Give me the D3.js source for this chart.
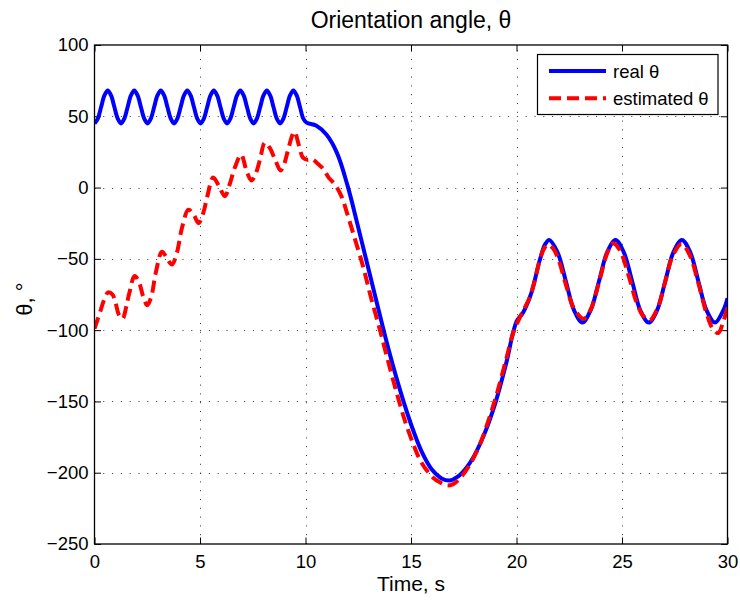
<!DOCTYPE html>
<html>
<head>
<meta charset="utf-8">
<script src="https://cdn.jsdelivr.net/npm/d3@7"></script>
<style>
  html, body { margin: 0; padding: 0; background: #fff; }
  svg { display: block; font-family: "Liberation Sans", Arial, Helvetica, sans-serif; }
</style>
</head>
<body>
<svg id="chart" width="740" height="600"></svg>
<script>
// ---------- data ----------
const xTicks = [0, 5, 10, 15, 20, 25, 30];
const yTicks = [-250, -200, -150, -100, -50, 0, 50, 100];

const realTime = [
  0, 0.157, 0.314, 0.471, 0.628, 0.785, 0.942, 1.100,
  1.257, 1.414, 1.571, 1.728, 1.885, 2.042, 2.199, 2.356,
  2.513, 2.670, 2.827, 2.985, 3.142, 3.299, 3.456, 3.613,
  3.770, 3.927, 4.084, 4.241, 4.398, 4.555, 4.712, 4.869,
  5.027, 5.184, 5.341, 5.498, 5.655, 5.812, 5.969, 6.126,
  6.283, 6.440, 6.597, 6.754, 6.912, 7.069, 7.226, 7.383,
  7.540, 7.697, 7.854, 8.011, 8.168, 8.325, 8.482, 8.639,
  8.796, 8.954, 9.111, 9.268, 9.425, 9.582, 9.739, 9.896,
  10.053, 10.5, 11.0, 11.5, 12.0, 12.5, 13.0, 13.5,
  14.0, 14.5, 15.0, 15.5, 16.0, 16.45, 16.84, 17.2,
  17.6, 18.0, 18.5, 19.0, 19.5, 20.0, 20.3, 20.7,
  21.1, 21.35, 21.55, 21.94, 22.34, 22.73, 23.12, 23.51,
  23.91, 24.30, 24.69, 25.08, 25.48, 25.87, 26.27, 26.66,
  27.05, 27.44, 27.84, 28.23, 28.62, 29.01, 29.41, 29.80,
  30.0
];
const realTheta = [
  45, 48.4, 56.5, 64.6, 68, 64.6, 56.5, 48.4,
  45, 48.4, 56.5, 64.6, 68, 64.6, 56.5, 48.4,
  45, 48.4, 56.5, 64.6, 68, 64.6, 56.5, 48.4,
  45, 48.4, 56.5, 64.6, 68, 64.6, 56.5, 48.4,
  45, 48.4, 56.5, 64.6, 68, 64.6, 56.5, 48.4,
  45, 48.4, 56.5, 64.6, 68, 64.6, 56.5, 48.4,
  45, 48.4, 56.5, 64.6, 68, 64.6, 56.5, 48.4,
  45, 48.4, 56.5, 64.6, 68, 64.6, 56.5, 48.4,
  45.5, 43.5, 37, 24, 1, -28, -58, -88,
  -117, -143, -166, -185, -198, -204, -205.5, -203,
  -197, -188, -172, -151, -124, -94, -88, -74,
  -51, -40, -36.7, -45.2, -65.7, -86.2, -94.7, -86.2,
  -65.7, -45.2, -36.7, -45.2, -65.7, -86.2, -94.7, -86.2,
  -65.7, -45.2, -36.7, -45.2, -65.7, -86.2, -94.7, -86.2,
  -77.6
];

const estTime = [
  0, 0.25, 0.45, 0.65, 0.85, 1.0, 1.15, 1.33, 1.5, 1.65,
  1.9, 2.1, 2.3, 2.5, 2.7, 2.9, 3.2, 3.45, 3.67, 3.9,
  4.15, 4.45, 4.7, 4.93, 5.15, 5.35, 5.62, 5.9, 6.18, 6.4,
  6.65, 6.95, 7.2, 7.43, 7.62, 7.85, 8.07, 8.3, 8.55, 8.82,
  9.0, 9.2, 9.47, 9.7, 9.88, 10.1, 10.3, 10.6, 10.85, 11.1,
  11.4, 11.7, 11.95, 12.3, 12.74, 13.1, 13.53, 13.9, 14.32, 14.7,
  15.11, 15.5, 16.05, 16.4, 16.7, 17.0, 17.32, 17.8, 18.27, 18.7,
  19.06, 19.5, 19.84, 20.16, 20.4, 20.63, 20.85, 21.1, 21.3, 21.5,
  21.75, 22.0, 22.34, 22.73, 23.19, 23.5, 23.9, 24.3, 24.58, 24.9,
  25.3, 25.7, 26.0, 26.32, 26.7, 27.05, 27.4, 27.82, 28.2, 28.6,
  29.0, 29.3, 29.56, 29.8, 30.0
];
const estTheta = [
  -99, -88, -79, -73.5, -75, -81, -89, -92, -84, -74,
  -62, -66, -76, -82.5, -76, -60, -45, -50, -54, -46,
  -28, -15.5, -19, -25, -18, -6, 7, 1, -6, 2,
  14, 23, 12, 5, 9, 20, 31.5, 28, 20, 12,
  17, 28, 39, 29, 21, 19.5, 20, 16.5, 13, 7,
  2, -6, -17, -34, -56, -77, -100, -121, -144, -163,
  -180, -193, -203.5, -207, -209, -208, -204, -194, -180, -162,
  -145, -121, -102, -91, -84, -77, -66, -51, -43, -40,
  -43, -51, -68, -85, -92, -86, -67, -46, -39, -44,
  -61, -81, -90, -93, -84, -66, -48, -39.5, -47, -66,
  -88, -99, -102, -94, -84
];

const seriesNames = ["real \u03B8", "estimated \u03B8"];
const seriesColors = ["#0000ff", "#ff0000"];
const titleText = "Orientation angle, \u03B8";
const xLabelText = "Time, s";
const yLabelText = "\u03B8, \u00B0";

// ---------- layout ----------
(function () {
const svg = d3.select("#chart");
const pL = 94.5, pR = 727.5, pT = 45, pB = 544;
const x = d3.scaleLinear().domain([0, 30]).range([pL, pR]);
const y = d3.scaleLinear().domain([-250, 100]).range([pB, pT]);

svg.append("rect").attr("width", 740).attr("height", 600).attr("fill", "#fff");

// grid
const grid = svg.append("g").attr("stroke", "#333").attr("stroke-width", 1)
  .attr("stroke-dasharray", "1,7.8");
grid.selectAll("line.v").data(xTicks.slice(1, -1)).join("line").attr("class", "v")
  .attr("x1", d => Math.round(x(d)) + 0.5).attr("x2", d => Math.round(x(d)) + 0.5)
  .attr("y1", pB).attr("y2", pT);
grid.selectAll("line.h").data(yTicks.slice(1, -1)).join("line").attr("class", "h")
  .attr("y1", d => Math.round(y(d)) + 0.5).attr("y2", d => Math.round(y(d)) + 0.5)
  .attr("x1", pL).attr("x2", pR);

// axes (ticks inside)
const fontSize = 18.5;
const tl = 6.5;
const gx = svg.append("g").attr("transform", `translate(0,${pB})`)
  .call(d3.axisBottom(x).tickValues(xTicks).tickSizeInner(-tl).tickSizeOuter(0).tickPadding(11));
const gy = svg.append("g").attr("transform", `translate(${pL},0)`)
  .call(d3.axisLeft(y).tickValues(yTicks).tickSizeInner(-tl).tickSizeOuter(0).tickPadding(6));
const gx2 = svg.append("g").attr("transform", `translate(0,${pT})`)
  .call(d3.axisTop(x).tickValues(xTicks).tickSizeInner(-tl).tickSizeOuter(0).tickFormat(""));
const gy2 = svg.append("g").attr("transform", `translate(${pR},0)`)
  .call(d3.axisRight(y).tickValues(yTicks).tickSizeInner(-tl).tickSizeOuter(0).tickFormat(""));
[gx, gy, gx2, gy2].forEach(g => {
  g.select(".domain").remove();
  g.selectAll(".tick line").attr("stroke", "#000").attr("stroke-width", 1);
  g.selectAll(".tick text").attr("fill", "#000")
    .style("font-size", fontSize + "px")
    .style("font-family", '"Liberation Sans", Arial, Helvetica, sans-serif');
});

// lines
svg.append("clipPath").attr("id", "clip").append("rect")
  .attr("x", pL).attr("y", pT - 2).attr("width", pR - pL).attr("height", pB - pT + 4);

const lineGen = d3.line()
  .x(d => x(d[0])).y(d => y(d[1]))
  .curve(d3.curveCatmullRom.alpha(0.5));

const realData = realTime.map((t, i) => [t, realTheta[i]]);
const estData = estTime.map((t, i) => [t, estTheta[i]]);

const plot = svg.append("g").attr("clip-path", "url(#clip)");
plot.append("path").datum(realData).attr("d", lineGen)
  .attr("fill", "none").attr("stroke", seriesColors[0]).attr("stroke-width", 4)
  .attr("stroke-linejoin", "round");
plot.append("path").datum(estData).attr("d", lineGen)
  .attr("fill", "none").attr("stroke", seriesColors[1]).attr("stroke-width", 4)
  .attr("stroke-dasharray", "12,6");

// box
svg.append("rect").attr("x", pL).attr("y", pT)
  .attr("width", pR - pL).attr("height", pB - pT)
  .attr("fill", "none").attr("stroke", "#000").attr("stroke-width", 1.3);

// title and labels
svg.append("text").attr("x", (pL + pR) / 2).attr("y", 28)
  .attr("text-anchor", "middle").style("font-size", "23px").text(titleText);
svg.append("text").attr("x", (pL + pR) / 2).attr("y", 591)
  .attr("text-anchor", "middle").style("font-size", "21px").text(xLabelText);
svg.append("text").attr("transform", "translate(32,299) rotate(-90)")
  .attr("text-anchor", "middle").style("font-size", "22px").text(yLabelText);

// legend
const lg = svg.append("g");
lg.append("rect").attr("x", 537.5).attr("y", 54.5).attr("width", 180.5).attr("height", 60)
  .attr("fill", "#fff").attr("stroke", "#000").attr("stroke-width", 1.2);
[0, 1].forEach(i => {
  const yy = 71 + i * 27.3;
  lg.append("line").attr("x1", 549).attr("x2", 606).attr("y1", yy).attr("y2", yy)
    .attr("stroke", seriesColors[i]).attr("stroke-width", 4)
    .attr("stroke-dasharray", i === 1 ? "12,6" : null);
  lg.append("text").attr("x", 613).attr("y", yy + 7)
    .style("font-size", fontSize + "px").text(seriesNames[i]);
});
})();
</script>
</body>
</html>
